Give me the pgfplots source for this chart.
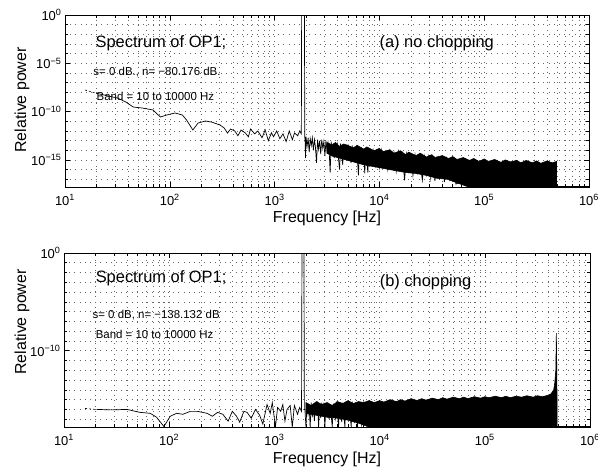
\documentclass[border=0pt]{standalone}
\usepackage{fontspec}
\setmainfont{Liberation Sans}
\usepackage{pgfplots}
\pgfplotsset{compat=1.18}

% both panels: log10(frequency) against log10(power), labelled as decades
\pgfplotsset{
  spec/.style={
    scale only axis,
    xmin=1, xmax=6, ymin=-17.8, ymax=0,
    xtick={1,2,3,4,5,6},
    xticklabels={10\textsuperscript{1},10\textsuperscript{2},10\textsuperscript{3},10\textsuperscript{4},10\textsuperscript{5},10\textsuperscript{6}},
    minor xtick={1.301,1.477,1.602,1.699,1.778,1.845,1.903,1.954,
                 2.301,2.477,2.602,2.699,2.778,2.845,2.903,2.954,
                 3.301,3.477,3.602,3.699,3.778,3.845,3.903,3.954,
                 4.301,4.477,4.602,4.699,4.778,4.845,4.903,4.954,
                 5.301,5.477,5.602,5.699,5.778,5.845,5.903,5.954},
    grid=both,
    major grid style={black!60, line width=0.6bp, dash pattern=on 0.7bp off 4.5bp},
    minor grid style={black!60, line width=0.6bp, dash pattern=on 0.7bp off 4.5bp},
    tick style={black, line width=0.6bp},
    major tick length=5bp, minor tick length=3bp,
    axis line style={line width=0.8bp},
    tick label style={font=\fontsize{13}{14}\selectfont},
    xticklabel style={yshift=-4bp},
  },
}
\tikzset{
  txtbig/.style={anchor=west, inner sep=0pt, font=\fontsize{16.5}{18}\selectfont},
  txtsmall/.style={anchor=west, inner sep=0pt, font=\fontsize{11.5}{13}\selectfont},
}

\begin{document}
\begin{tikzpicture}
\path[use as bounding box] (0,0) rectangle (598bp,-472bp);

% ---------------- (a) no chopping ----------------
\begin{axis}[spec, at={(65bp,-15bp)}, anchor=north west, width=524bp, height=172bp,
  ytick={0,-5,-10,-15},
  yticklabels={10\textsuperscript{0},10\textsuperscript{−5},10\textsuperscript{−10},10\textsuperscript{−15}},
  minor ytick={-1,-2,-3,-4,-6,-7,-8,-9,-11,-12,-13,-14,-16,-17}]
\addplot[black, line width=0.6bp, fill=black] coordinates {
  (3.50,-13.2)(3.55,-13.45)(3.58,-13.2)(3.62,-13.6)(3.66,-13.35)(3.70,-13.5)(3.75,-13.75)
  (3.79,-13.5)(3.85,-13.9)(3.88,-13.65)(3.95,-14.05)(4.00,-13.8)(4.03,-14.15)(4.10,-13.95)
  (4.14,-14.3)(4.20,-14.05)(4.25,-14.45)(4.28,-14.2)(4.35,-14.55)(4.39,-14.3)(4.45,-14.7)
  (4.50,-14.45)(4.53,-14.75)(4.60,-14.55)(4.66,-14.85)(4.70,-14.65)(4.74,-14.95)(4.80,-14.75)
  (4.86,-15.05)(4.90,-14.85)(4.95,-15.15)(5.00,-14.9)(5.04,-15.15)(5.10,-14.95)(5.16,-15.25)
  (5.20,-15.0)(5.25,-15.2)(5.31,-15.05)(5.35,-15.3)(5.40,-15.05)(5.46,-15.3)(5.50,-15.1)
  (5.54,-15.35)(5.60,-15.1)(5.65,-15.3)(5.69,-15.15)(5.69,-17.8)
  (4.85,-17.8)(4.75,-17.4)(4.65,-17.0)(4.55,-16.9)(4.45,-16.6)(4.35,-16.4)(4.25,-16.3)
  (4.15,-16.1)(4.05,-15.9)(3.95,-15.7)(3.85,-15.5)(3.75,-15.2)(3.65,-14.9)(3.55,-14.6)
  (3.50,-14.3)} -- cycle;
\addplot[black, line width=0.6bp, dash pattern=on 2bp off 2bp] coordinates {(1.19,-7.76)(1.30,-8.1)};
\addplot[black, line width=0.7bp] coordinates {
  (1.30,-8.1)(1.40,-8.35)(1.50,-8.59)(1.58,-9.0)(1.65,-9.52)(1.74,-9.63)(1.84,-9.83)
  (1.91,-10.56)(1.97,-10.35)(2.05,-10.14)(2.12,-10.35)(2.16,-10.87)(2.22,-11.90)
  (2.27,-11.18)(2.34,-10.97)(2.40,-11.08)(2.48,-11.39)(2.52,-11.70)(2.55,-12.22)
  (2.58,-11.80)(2.62,-12.0)(2.65,-12.5)(2.68,-11.9)(2.72,-12.2)(2.75,-12.6)(2.77,-11.8)
  (2.81,-12.3)(2.84,-12.0)(2.88,-12.7)(2.91,-11.9)(2.94,-13.0)(2.97,-12.2)(2.99,-12.6)
  (3.02,-12.0)(3.05,-12.8)(3.08,-12.3)(3.11,-13.1)(3.14,-12.0)(3.17,-12.9)(3.19,-12.2)
  (3.22,-12.5)(3.24,-12.0)(3.255,-12.3)(3.258,0)(3.285,0)(3.288,-12.7)
  (3.29,-12.7)(3.295,-14.8)(3.30,-12.6)(3.31,-13.6)(3.32,-12.7)(3.33,-14.2)(3.34,-12.8)
  (3.35,-13.5)(3.36,-12.7)(3.37,-14.0)(3.38,-12.9)(3.39,-13.7)(3.40,-15.3)(3.41,-12.9)
  (3.42,-13.9)(3.43,-13.0)(3.44,-14.4)(3.45,-12.9)(3.46,-13.8)(3.47,-13.1)(3.48,-14.6)
  (3.49,-13.0)(3.50,-14.0)(3.51,-13.2)(3.52,-13.9)(3.53,-16.3)(3.54,-13.1)(3.55,-14.3)
  (3.56,-13.3)(3.57,-14.8)(3.58,-13.2)(3.59,-14.1)(3.60,-13.4)(3.61,-14.9)(3.62,-16.0)
  (3.63,-13.3)(3.64,-14.5)(3.65,-15.5)(3.66,-13.4)(3.67,-14.6)(3.68,-13.5)(3.69,-15.0)
  (3.70,-13.4)(3.71,-14.4)(3.72,-13.6)(3.73,-15.3)(3.74,-13.5)(3.75,-14.7)(3.76,-13.7)
  (3.77,-15.1)(3.78,-13.6)(3.79,-14.8)(3.80,-16.6)(3.81,-13.8)(3.82,-15.0)(3.83,-13.7)
  (3.84,-14.9)(3.85,-13.8)(3.86,-16.4)(3.87,-13.9)(3.88,-15.2)(3.89,-16.3)(3.90,-13.9)
  (3.92,-15.4)(3.94,-14.0)(3.96,-15.6)(3.98,-14.1)(4.00,-15.8)(4.02,-14.0)(4.04,-15.5)
  (4.06,-14.2)(4.08,-16.0)(4.10,-14.1)(4.12,-15.7)(4.14,-14.3)(4.16,-16.2)(4.18,-14.2)
  (4.20,-15.9)(4.22,-14.4)(4.24,-17.1)(4.26,-14.4)(4.28,-16.1)(4.30,-14.5)(4.32,-16.6)
  (4.34,-14.5)(4.36,-16.3)(4.38,-14.6)(4.41,-17.1)(4.43,-14.7)(4.45,-16.5)(4.47,-14.7)
  (4.49,-16.9)(4.51,-14.8)(4.53,-17.2)(4.55,-14.9)(4.57,-16.8)(4.60,-14.9)(4.62,-17.3)
  (4.64,-14.9)(4.67,-17.0)(4.70,-15.0)(4.73,-17.5)(4.77,-17.3)(4.80,-15.1)};
\addplot[black, line width=0.7bp] coordinates {(5.69,-17.75)(6,-17.75)};
\node[txtbig] at (axis cs:1.29,-2.9) {Spectrum of OP1;};
\node[txtsmall] at (axis cs:1.27,-5.9) {s= 0 dB., n= −80.176 dB.};
\node[txtsmall] at (axis cs:1.30,-8.4) {Band = 10 to 10000 Hz};
\node[txtbig] at (axis cs:4.00,-2.9) {(a) no chopping};
\end{axis}

% ---------------- (b) chopping ----------------
\begin{axis}[spec, at={(64bp,-253bp)}, anchor=north west, width=526bp, height=174bp,
  ytick={0,-10},
  yticklabels={10\textsuperscript{0},10\textsuperscript{−10}},
  minor ytick={-1,-2,-3,-4,-5,-6,-7,-8,-9,-11,-12,-13,-14,-15,-16,-17}]
\addplot[black, line width=0.6bp, fill=black] coordinates {
  (3.30,-15.3)(3.35,-15.6)(3.40,-15.2)(3.45,-15.5)(3.50,-15.3)(3.55,-15.6)(3.60,-15.2)
  (3.65,-15.4)(3.70,-15.1)(3.75,-15.4)(3.80,-15.2)(3.85,-15.3)(3.90,-15.1)(3.95,-15.3)
  (4.00,-15.1)(4.04,-15.25)(4.10,-15.0)(4.16,-15.2)(4.20,-15.0)(4.24,-15.15)(4.30,-14.9)
  (4.36,-15.1)(4.40,-14.9)(4.44,-15.05)(4.50,-14.85)(4.56,-15.0)(4.60,-14.8)(4.64,-14.95)
  (4.70,-14.75)(4.76,-14.9)(4.80,-14.75)(4.84,-14.9)(4.90,-14.7)(4.96,-14.85)(5.00,-14.7)
  (5.04,-14.8)(5.10,-14.65)(5.16,-14.8)(5.20,-14.65)(5.24,-14.8)(5.30,-14.65)(5.35,-14.75)
  (5.40,-14.6)(5.46,-14.75)(5.50,-14.6)(5.55,-14.7)(5.60,-14.55)(5.63,-14.4)(5.655,-14.0)
  (5.665,-13.3)(5.675,-12.0)(5.68,-8.2)(5.685,-12.5)(5.688,-17.8)
  (3.90,-17.8)(3.80,-17.4)(3.70,-17.1)(3.60,-16.9)(3.50,-16.8)(3.40,-16.6)(3.30,-16.4)} -- cycle;
\addplot[black, line width=0.6bp, dash pattern=on 2bp off 2bp] coordinates {(1.20,-15.9)(1.30,-16.0)};
\addplot[black, line width=0.7bp] coordinates {
  (1.31,-16.0)(1.45,-16.05)(1.60,-16.0)(1.72,-16.3)(1.82,-16.4)(1.88,-16.8)(1.95,-17.75)
  (2.01,-16.7)(2.07,-16.4)(2.13,-16.5)(2.20,-16.2)(2.27,-16.2)(2.36,-16.4)(2.41,-16.7)
  (2.46,-16.3)(2.51,-16.5)(2.56,-17.2)(2.60,-16.2)(2.64,-16.7)(2.67,-17.3)(2.71,-16.2)
  (2.74,-16.3)(2.78,-16.9)(2.82,-16.0)(2.86,-16.6)(2.89,-17.5)(2.93,-15.5)(2.96,-16.4)
  (2.98,-15.3)(3.01,-17.8)(3.03,-15.8)(3.06,-16.2)(3.08,-15.5)(3.10,-17.2)(3.12,-16.0)
  (3.15,-15.6)(3.17,-17.8)(3.19,-15.6)(3.22,-16.5)(3.24,-15.8)(3.258,-16.2)(3.262,0)
  (3.281,0)(3.285,-16.0)
  (3.29,-16.0)(3.30,-17.8)(3.31,-15.4)(3.32,-16.5)(3.33,-15.6)(3.34,-17.8)(3.35,-15.3)
  (3.36,-16.8)(3.37,-15.5)(3.38,-17.2)(3.39,-15.4)(3.40,-16.4)(3.41,-15.2)(3.42,-17.8)
  (3.43,-15.5)(3.44,-16.9)(3.45,-15.3)(3.46,-16.3)(3.47,-15.6)(3.48,-17.8)(3.49,-15.4)
  (3.50,-16.7)(3.51,-15.3)(3.52,-17.0)(3.53,-15.5)(3.55,-17.8)(3.56,-15.4)(3.58,-16.9)
  (3.59,-15.2)(3.61,-17.8)(3.62,-15.4)(3.64,-17.3)(3.65,-15.3)(3.67,-17.8)(3.68,-15.2)
  (3.70,-17.1)(3.71,-15.4)(3.73,-17.8)(3.74,-15.2)(3.76,-17.4)(3.77,-15.3)(3.79,-17.8)
  (3.80,-15.2)(3.83,-17.6)(3.85,-15.3)(3.88,-17.8)(3.90,-15.1)};
\addplot[black, line width=0.7bp] coordinates {(5.688,-17.75)(6,-17.75)};
\node[txtbig] at (axis cs:1.30,-2.55) {Spectrum of OP1;};
\node[txtsmall] at (axis cs:1.27,-6.3) {s= 0 dB, n= −138.132 dB};
\node[txtsmall] at (axis cs:1.30,-8.3) {Band = 10 to 10000 Hz};
\node[txtbig] at (axis cs:4.00,-3.0) {(b) chopping};
\end{axis}

% axis titles
\node[rotate=90, font=\fontsize{16}{18}\selectfont] at (22bp,-100bp) {Relative power};
\node[rotate=90, font=\fontsize{16}{18}\selectfont] at (22bp,-322bp) {Relative power};
\node[font=\fontsize{16}{18}\selectfont] at (327bp,-218bp) {Frequency [Hz]};
\node[font=\fontsize{16}{18}\selectfont] at (327bp,-459bp) {Frequency [Hz]};
\end{tikzpicture}
\end{document}
